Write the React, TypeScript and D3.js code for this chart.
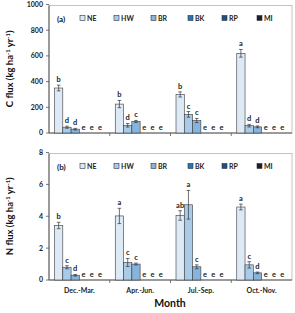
import React from "react";
import * as d3 from "d3";

const months = ["Dec.-Mar.", "Apr.-Jun.", "Jul.-Sep.", "Oct.-Nov."];
const series = ["NE", "HW", "BR", "BK", "RP", "MI"];
const colors = ["#dde9f5", "#a9cbe8", "#86b4dd", "#2f6fb3", "#22507e", "#17202c"];

// C flux: rows = months, columns = series
const cMean = [
  [350, 45, 30, 0, 0, 0],
  [225, 60, 90, 0, 0, 0],
  [300, 145, 97, 0, 0, 0],
  [620, 57, 48, 0, 0, 0],
];
const cErr = [
  [22, 8, 6, 0, 0, 0],
  [28, 14, 8, 0, 0, 0],
  [20, 22, 16, 0, 0, 0],
  [30, 10, 7, 0, 0, 0],
];
const cLetters = [
  ["b", "d", "d", "e", "e", "e"],
  ["b", "d", "c", "e", "e", "e"],
  ["b", "c", "c", "e", "e", "e"],
  ["a", "d", "d", "e", "e", "e"],
];

// N flux
const nMean = [
  [3.42, 0.8, 0.3, 0, 0, 0],
  [4.02, 1.1, 1.0, 0, 0, 0],
  [4.05, 4.72, 0.83, 0, 0, 0],
  [4.58, 0.95, 0.45, 0, 0, 0],
];
const nErr = [
  [0.2, 0.1, 0.05, 0, 0, 0],
  [0.48, 0.25, 0.06, 0, 0, 0],
  [0.3, 0.9, 0.12, 0, 0, 0],
  [0.18, 0.2, 0.05, 0, 0, 0],
];
const nLetters = [
  ["b", "c", "d", "e", "e", "e"],
  ["a", "c", "c", "e", "e", "e"],
  ["ab", "a", "c", "e", "e", "e"],
  ["a", "c", "d", "e", "e", "e"],
];

const cTicks = [0, 200, 400, 600, 800, 1000];
const nTicks = [0, 2, 4, 6, 8];

const FONT = "Lato, 'Open Sans', sans-serif";
const left = 49;
const right = 292;

const xMonth = d3.scaleBand<string>().domain(months).range([left, right]).padding(0);
const xSeries = d3
  .scaleBand<string>()
  .domain(series)
  .range([5.5, xMonth.bandwidth() - 5.5])
  .padding(0);

type PanelProps = {
  tag: string;
  yTop: number;
  yBottom: number;
  max: number;
  ticks: number[];
  mean: number[][];
  err: number[][];
  letters: string[][];
  title: string;
  showMonths: boolean;
};

function Panel({ tag, yTop, yBottom, max, ticks, mean, err, letters, title, showMonths }: PanelProps) {
  const y = d3.scaleLinear().domain([0, max]).range([yBottom, yTop]);
  const mid = (yTop + yBottom) / 2;
  const legendX = [80, 114, 151, 188, 222, 257];
  return (
    <g>
      {/* frame */}
      <rect x={left} y={yTop + 1} width={right - left} height={yBottom - yTop - 1} fill="none" stroke="#b5b5b5" strokeWidth={0.8} />
      <line x1={left} x2={left} y1={yTop + 1} y2={yBottom} stroke="#555" strokeWidth={1} />
      <line x1={left} x2={right} y1={yBottom} y2={yBottom} stroke="#555" strokeWidth={1} />
      {ticks.map((t) => (
        <g key={t}>
          <line x1={left - 3} x2={left} y1={y(t)} y2={y(t)} stroke="#555" strokeWidth={0.8} />
          <text x={left - 6} y={y(t)} dy="0.35em" textAnchor="end" fontSize={7} fontWeight={700} fill="#222" fontFamily={FONT}>
            {t}
          </text>
        </g>
      ))}
      {months.slice(1).map((m) => (
        <line key={m} x1={xMonth(m)!} x2={xMonth(m)!} y1={yBottom} y2={yBottom + 3} stroke="#555" strokeWidth={0.8} />
      ))}
      {showMonths &&
        months.map((m) => (
          <text key={m} x={xMonth(m)! + xMonth.bandwidth() / 2} y={yBottom + 13} textAnchor="middle" fontSize={7} fontWeight={700} fill="#222" fontFamily={FONT}>
            {m}
          </text>
        ))}
      <text
        transform={`translate(13,${mid}) rotate(-90)`}
        textAnchor="middle"
        fontSize={9.5}
        fontWeight={700}
        fill="#111"
        fontFamily={FONT}
      >
        {title}
        <tspan> (kg ha</tspan>
        <tspan fontSize={6} dy={-3.5}>-1</tspan>
        <tspan dy={3.5}> yr</tspan>
        <tspan fontSize={6} dy={-3.5}>-1</tspan>
        <tspan dy={3.5}>)</tspan>
      </text>
      <text x={57} y={yTop + 17} fontSize={8} fontWeight={700} fill="#111" fontFamily={FONT}>
        {tag}
      </text>
      {series.map((s, i) => (
        <g key={s}>
          <rect x={legendX[i]} y={yTop + 11} width={5} height={5} fill={colors[i]} stroke="#333" strokeWidth={0.6} />
          <text x={legendX[i] + 7} y={yTop + 16} fontSize={7} fontWeight={700} fill="#222" fontFamily={FONT}>
            {s}
          </text>
        </g>
      ))}
      {months.map((m, mi) => (
        <g key={m} transform={`translate(${xMonth(m)},0)`}>
          {series.map((s, si) => {
            const v = mean[mi][si];
            const e = err[mi][si];
            const x0 = xSeries(s)!;
            const w = xSeries.bandwidth();
            const cx = x0 + w / 2;
            const topVal = v + e;
            return (
              <g key={s}>
                {v > 0 && (
                  <rect x={x0} y={y(v)} width={w} height={yBottom - y(v)} fill={colors[si]} stroke="#3a3a3a" strokeWidth={0.6} />
                )}
                {e > 0 && (
                  <g stroke="#333" strokeWidth={0.7}>
                    <line x1={cx} x2={cx} y1={y(v + e)} y2={y(Math.max(0, v - e))} />
                    <line x1={cx - 1.8} x2={cx + 1.8} y1={y(v + e)} y2={y(v + e)} />
                    <line x1={cx - 1.8} x2={cx + 1.8} y1={y(Math.max(0, v - e))} y2={y(Math.max(0, v - e))} />
                  </g>
                )}
                <text x={cx} y={y(topVal) - 3} textAnchor="middle" fontSize={7.5} fontWeight={700} fill="#222" fontFamily={FONT}>
                  {letters[mi][si]}
                </text>
              </g>
            );
          })}
        </g>
      ))}
    </g>
  );
}

export default function App() {
  return (
    <svg width={295} height={313} style={{ position: "absolute", left: 0, top: 0, background: "#fff" }}>
      <rect width={295} height={313} fill="#fff" />
      <Panel tag="(a)" yTop={4.5} yBottom={133} max={1000} ticks={cTicks} mean={cMean} err={cErr} letters={cLetters} title="C flux" showMonths={false} />
      <Panel tag="(b)" yTop={152.5} yBottom={280} max={8} ticks={nTicks} mean={nMean} err={nErr} letters={nLetters} title="N flux" showMonths={true} />
      <text x={170} y={307} textAnchor="middle" fontSize={10.5} fontWeight={700} fill="#111" fontFamily={FONT}>
        Month
      </text>
    </svg>
  );
}
